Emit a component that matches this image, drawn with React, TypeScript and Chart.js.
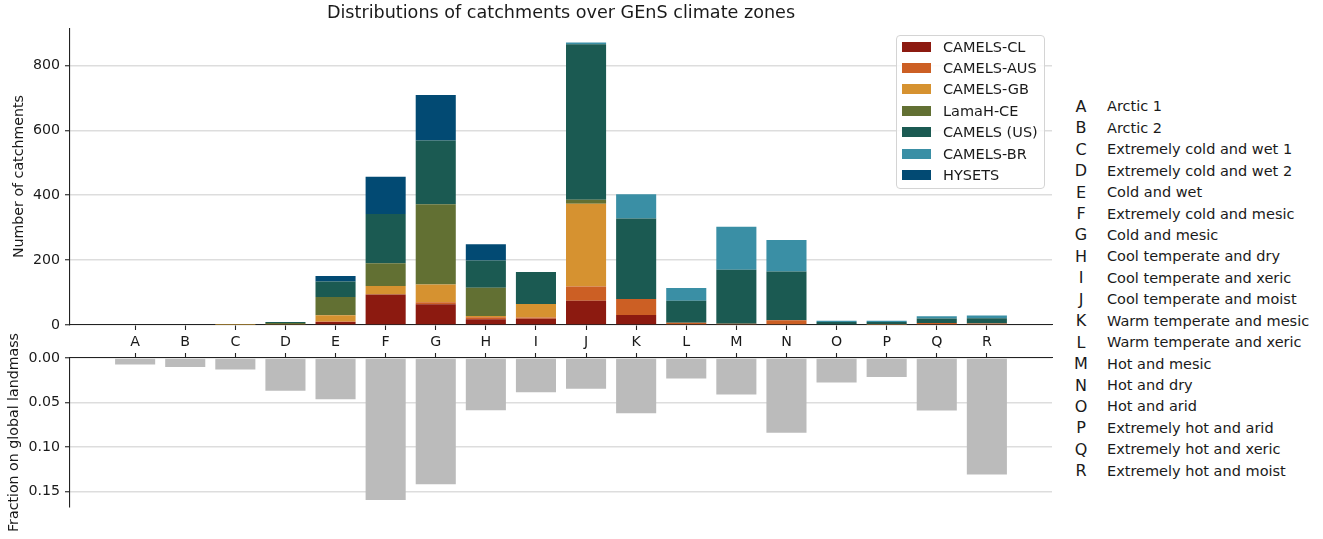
import React, { useEffect, useRef } from 'react';
import { Chart, registerables } from 'chart.js';

Chart.register(...registerables);

const FONT = "'DejaVu Sans', sans-serif";
const TEXT = '#1a1a1a';

const zones = ['A', 'B', 'C', 'D', 'E', 'F', 'G', 'H', 'I', 'J', 'K', 'L', 'M', 'N', 'O', 'P', 'Q', 'R'];
const zoneNames = [
  'Arctic 1',
  'Arctic 2',
  'Extremely cold and wet 1',
  'Extremely cold and wet 2',
  'Cold and wet',
  'Extremely cold and mesic',
  'Cold and mesic',
  'Cool temperate and dry',
  'Cool temperate and xeric',
  'Cool temperate and moist',
  'Warm temperate and mesic',
  'Warm temperate and xeric',
  'Hot and mesic',
  'Hot and dry',
  'Hot and arid',
  'Extremely hot and arid',
  'Extremely hot and xeric',
  'Extremely hot and moist',
];

const datasetNames = ['CAMELS-CL', 'CAMELS-AUS', 'CAMELS-GB', 'LamaH-CE', 'CAMELS (US)', 'CAMELS-BR', 'HYSETS'];
const datasetColors = ['#8c1a10', '#cc5f24', '#d69230', '#627033', '#1b5a52', '#3a8fa5', '#024a73'];

const camelsCL = [0, 0, 0, 0, 9, 94, 64, 18, 19, 75, 31, 0, 0, 0, 0, 0, 0, 0];
const camelsAUS = [0, 0, 0, 0, 2, 0, 6, 6, 4, 44, 49, 7, 4, 15, 2, 1, 6, 5];
const camelsGB = [0, 0, 1, 3, 19, 26, 55, 4, 42, 255, 0, 0, 0, 0, 0, 0, 0, 0];
const lamahCE = [0, 0, 1, 3, 56, 70, 247, 87, 0, 12, 0, 0, 0, 0, 0, 0, 0, 0];
const camelsUS = [0, 0, 0, 3, 48, 152, 197, 84, 98, 479, 248, 68, 166, 150, 7, 8, 14, 16];
const camelsBR = [0, 0, 0, 0, 0, 0, 0, 0, 0, 6, 75, 39, 133, 97, 4, 4, 7, 8];
const hysets = [0, 0, 0, 0, 17, 115, 140, 50, 0, 0, 0, 0, 0, 0, 0, 0, 0, 0];

const landFraction = [
  0.0072, 0.0102, 0.0128, 0.0369, 0.0463, 0.1596, 0.1419, 0.0587, 0.0384, 0.0347, 0.0621, 0.023, 0.041, 0.084,
  0.0275, 0.0215, 0.059, 0.131,
];

const countTicks = [0, 200, 400, 600, 800];
const fractionTicks = [0, 0.05, 0.1, 0.15];

const seriesValues = [camelsCL, camelsAUS, camelsGB, lamahCE, camelsUS, camelsBR, hysets];

const tickFont = { family: FONT, size: 14.2 };

export default function App() {
  const topRef = useRef<HTMLCanvasElement | null>(null);
  const bottomRef = useRef<HTMLCanvasElement | null>(null);

  useEffect(() => {
    Chart.defaults.font.family = FONT;
    const zoneTicks = zones.map((_, i) => ({ value: i }));

    const top = new Chart(topRef.current as HTMLCanvasElement, {
      type: 'bar',
      data: {
        datasets: seriesValues.map((vals, k) => ({
          label: datasetNames[k],
          data: vals.map((v, i) => ({ x: i, y: v })),
          backgroundColor: datasetColors[k],
          borderWidth: 0,
          barPercentage: 0.8,
          categoryPercentage: 1,
        })),
      },
      options: {
        animation: false,
        responsive: false,
        layout: { padding: { left: 0, right: 8, top: 0, bottom: 0 } },
        plugins: {
          legend: { display: false },
          tooltip: { enabled: false },
          title: {
            display: true,
            text: 'Distributions of catchments over GEnS climate zones',
            fullSize: false,
            color: TEXT,
            font: { family: FONT, size: 17.6, weight: 'normal' },
            padding: { top: 3, bottom: 4 },
          },
        },
        scales: {
          x: {
            type: 'linear',
            offset: false,
            min: -1.3,
            max: 18.3,
            stacked: true,
            afterBuildTicks: (s: any) => {
              s.ticks = zoneTicks.map((t) => ({ ...t }));
            },
            afterFit: (s: any) => {
              s.height = 14;
            },
            ticks: { display: false },
            grid: {
              offset: false,
              drawOnChartArea: false,
              drawTicks: true,
              tickLength: 5,
              tickColor: '#222',
              tickWidth: 1.1,
            },
            border: { color: '#222', width: 1.1 },
          },
          y: {
            stacked: true,
            min: 0,
            max: 915,
            afterBuildTicks: (s: any) => {
              s.ticks = countTicks.map((v) => ({ value: v }));
            },
            afterFit: (s: any) => {
              s.width = 70;
            },
            ticks: { font: tickFont, color: TEXT, padding: 5 },
            grid: { color: '#dddddd', lineWidth: 1.5, tickLength: 5, tickColor: '#222', tickWidth: 1.1 },
            border: { color: '#222', width: 1.1 },
            title: {
              display: true,
              text: 'Number of catchments',
              color: TEXT,
              font: tickFont,
              padding: { top: 10.5, bottom: 0 },
            },
          },
        },
      },
    } as any);

    const bottom = new Chart(bottomRef.current as HTMLCanvasElement, {
      type: 'bar',
      data: {
        datasets: [
          {
            label: 'Fraction on global landmass',
            data: landFraction.map((v, i) => ({ x: i, y: v })),
            backgroundColor: '#bbbbbb',
            borderWidth: 0,
            barPercentage: 0.8,
            categoryPercentage: 1,
          },
        ],
      },
      options: {
        animation: false,
        responsive: false,
        layout: { padding: { left: 0, right: 8, top: 0, bottom: 32 } },
        plugins: { legend: { display: false }, tooltip: { enabled: false } },
        scales: {
          x: {
            type: 'linear',
            position: 'top',
            offset: false,
            min: -1.3,
            max: 18.3,
            afterBuildTicks: (s: any) => {
              s.ticks = zoneTicks.map((t) => ({ ...t }));
            },
            afterFit: (s: any) => {
              s.height = 28;
            },
            ticks: {
              font: tickFont,
              color: TEXT,
              padding: 2,
              maxRotation: 0,
              autoSkip: false,
              callback: (v: any) => zones[Math.round(Number(v))] ?? '',
            },
            grid: {
              offset: false,
              drawOnChartArea: false,
              drawTicks: true,
              tickLength: 5,
              tickColor: '#222',
              tickWidth: 1.1,
            },
            border: { color: '#222', width: 1.1 },
          },
          y: {
            reverse: true,
            min: 0,
            max: 0.1676,
            afterBuildTicks: (s: any) => {
              s.ticks = fractionTicks.map((v) => ({ value: v }));
            },
            afterFit: (s: any) => {
              s.width = 70;
            },
            ticks: { font: tickFont, color: TEXT, padding: 5, callback: (v: any) => Number(v).toFixed(2) },
            grid: { color: '#dddddd', lineWidth: 1.5, tickLength: 5, tickColor: '#222', tickWidth: 1.1 },
            border: { color: '#222', width: 1.1 },
            title: {
              display: true,
              text: 'Fraction on global landmass',
              color: TEXT,
              font: tickFont,
              padding: { top: 5.5, bottom: 0 },
            },
          },
        },
      },
    } as any);

    return () => {
      top.destroy();
      bottom.destroy();
    };
  }, []);

  const legendTop = 35;
  const rowH = 21.4;

  return (
    <div
      style={{
        position: 'absolute',
        left: 0,
        top: 0,
        width: 1323,
        height: 539,
        background: '#fff',
        fontFamily: FONT,
        color: TEXT,
        overflow: 'hidden',
      }}
    >
      <canvas
        ref={topRef}
        width={1060}
        height={339}
        style={{ position: 'absolute', left: 0, top: 0, width: 1060, height: 339 }}
      />
      <canvas
        ref={bottomRef}
        width={1060}
        height={209}
        style={{ position: 'absolute', left: 0, top: 330, width: 1060, height: 209 }}
      />
      <div
        style={{
          position: 'absolute',
          left: 896,
          top: legendTop,
          width: 147,
          height: 152,
          border: '1px solid #d4d4d4',
          borderRadius: 4,
          background: 'rgba(255,255,255,0.85)',
        }}
      />
      {datasetNames.map((name, i) => (
        <div
          key={name}
          style={{
            position: 'absolute',
            left: 902,
            top: legendTop + 11.7 + i * rowH - rowH / 2,
            height: rowH,
            display: 'flex',
            alignItems: 'center',
            whiteSpace: 'nowrap',
          }}
        >
          <span style={{ display: 'inline-block', width: 29, height: 10, background: datasetColors[i] }} />
          <span style={{ marginLeft: 12, fontSize: 14.5, lineHeight: '16px' }}>{name}</span>
        </div>
      ))}
      {zones.map((z, i) => (
        <div
          key={z}
          style={{
            position: 'absolute',
            left: 1066,
            top: 106.3 + i * 21.44 - 11,
            height: 22,
            display: 'flex',
            alignItems: 'center',
            whiteSpace: 'nowrap',
          }}
        >
          <span style={{ display: 'inline-block', width: 30, textAlign: 'center', fontSize: 16 }}>{z}</span>
          <span style={{ marginLeft: 11, fontSize: 14.5 }}>{zoneNames[i]}</span>
        </div>
      ))}
    </div>
  );
}
